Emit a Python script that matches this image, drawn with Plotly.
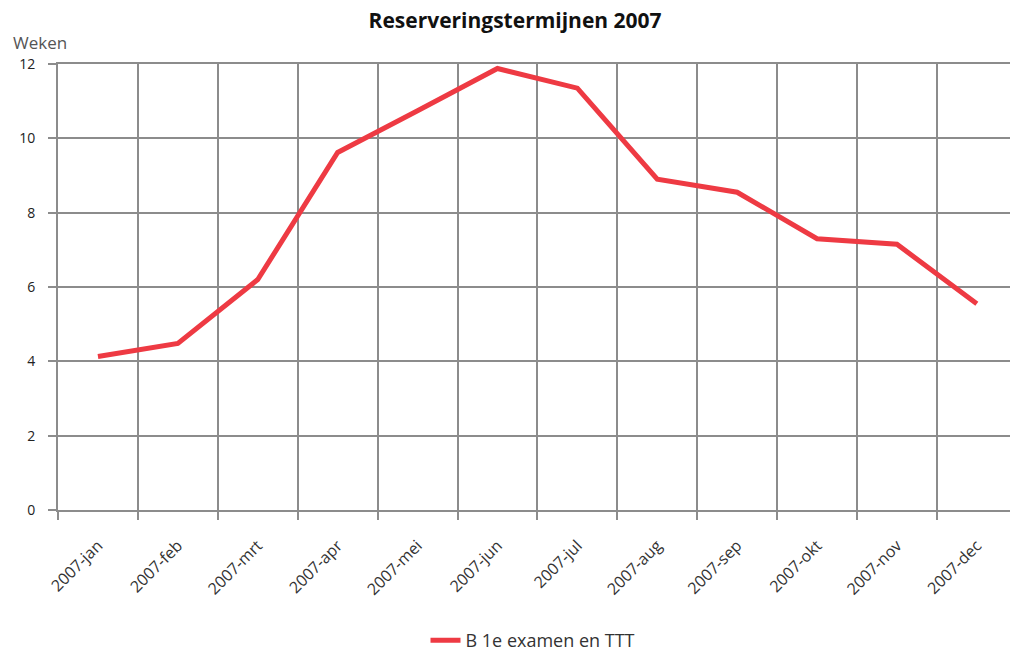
import plotly.graph_objects as go

months = ["2007-jan", "2007-feb", "2007-mrt", "2007-apr", "2007-mei", "2007-jun",
          "2007-jul", "2007-aug", "2007-sep", "2007-okt", "2007-nov", "2007-dec"]
weken = [4.13, 4.48, 6.2, 9.62, 10.74, 11.88, 11.35, 8.9, 8.55, 7.3, 7.15, 5.55]
series_name = "B 1e examen en TTT"
title_text = "Reserveringstermijnen 2007"
y_title = "Weken"
y_ticks = [0, 2, 4, 6, 8, 10, 12]

grid = "#8c8c8c"
font = "Open Sans"

fig = go.Figure()
fig.add_trace(go.Scatter(
    x=months, y=weken, mode="lines", name=series_name,
    line=dict(color="#EE3A43", width=5),
))

fig.update_layout(
    width=1010, height=659,
    paper_bgcolor="white", plot_bgcolor="white",
    margin=dict(l=58, r=0, t=64, b=149),
    title=dict(text=title_text, x=0.51, xanchor="center", y=1 - 21 / 659, yanchor="middle",
               font=dict(family=font, size=21, color="#111111", weight="bold")),
    font=dict(family=font, color="#333333"),
    showlegend=True,
    legend=dict(orientation="h", xref="container", yref="container",
                x=533 / 1010, xanchor="center", y=0, yanchor="bottom",
                font=dict(family=font, size=18, color="#333333")),
    annotations=[dict(text=y_title, xref="paper", yref="paper", x=-47 / 952, y=1 + 22 / 446,
                      xanchor="left", yanchor="middle", showarrow=False,
                      font=dict(family=font, size=17, color="#555555"))],
)

fig.update_xaxes(
    type="category", categoryorder="array", categoryarray=months,
    range=[-0.5, 11.415], tickson="boundaries", automargin=False,
    showgrid=True, gridcolor=grid, gridwidth=2,
    showline=True, linecolor=grid, linewidth=2, mirror=True,
    ticks="outside", ticklen=8, tickwidth=2, tickcolor=grid,
    tickangle=-45, ticklabelstandoff=18,
    tickfont=dict(family=font, size=16, color="#333333"),
)
fig.update_yaxes(
    range=[0, 12], tickvals=y_ticks, automargin=False,
    showgrid=True, gridcolor=grid, gridwidth=2, zeroline=False,
    showline=True, linecolor=grid, linewidth=2,
    ticks="outside", ticklen=8, tickwidth=2, tickcolor=grid,
    ticklabelstandoff=10,
    tickfont=dict(family=font, size=14, color="#222222"),
)

fig.write_html("out.html", config={"displayModeBar": False},
               post_script="document.body.style.margin='0';")
